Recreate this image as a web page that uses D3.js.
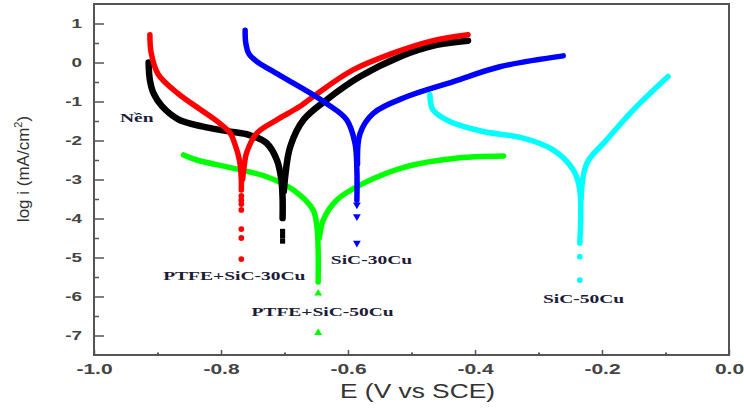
<!DOCTYPE html>
<html><head><meta charset="utf-8">
<script src="https://cdn.jsdelivr.net/npm/d3@7"></script>
<style>body{margin:0;background:#fff}svg{display:block}</style>
</head><body><svg id="c" width="744" height="411"></svg>
<script>
// ---- data (E in V vs SCE, log i in mA/cm2) ----
const xTicks = [-1.0, -0.8, -0.6, -0.4, -0.2, 0.0];
const xMinor = [-0.9, -0.7, -0.5, -0.3, -0.1];
const yTicks = [-7, -6, -5, -4, -3, -2, -1, 0, 1];
const yMinor = [-6.5, -5.5, -4.5, -3.5, -2.5, -1.5, -0.5, 0.5];
const seriesNames = ["Nền", "PTFE+SiC-30Cu", "SiC-30Cu", "PTFE+SiC-50Cu", "SiC-50Cu"];

const nenCathodic = [[-0.914,0.0],[-0.912,-0.45],[-0.906,-0.80],[-0.893,-1.12],[-0.868,-1.45],[-0.830,-1.64],[-0.790,-1.76],[-0.755,-1.86],[-0.728,-2.07],[-0.712,-2.50],[-0.705,-3.0],[-0.703,-3.5],[-0.703,-3.99]];
const nenAnodic = [[-0.701,-3.3],[-0.699,-2.93],[-0.691,-2.16],[-0.670,-1.47],[-0.634,-0.96],[-0.581,-0.36],[-0.518,0.15],[-0.460,0.45],[-0.411,0.56]];
const nenTail = [[-0.703,-4.33],[-0.703,-4.45],[-0.703,-4.58]];

const p30Cathodic = [[-0.912,0.71],[-0.910,0.25],[-0.899,-0.30],[-0.868,-0.79],[-0.833,-1.20],[-0.802,-1.56],[-0.786,-1.80],[-0.778,-2.10],[-0.771,-2.50],[-0.768,-3.0],[-0.768,-3.27]];
const p30Anodic = [[-0.766,-3.0],[-0.763,-2.6],[-0.760,-2.33],[-0.744,-1.82],[-0.712,-1.47],[-0.676,-1.13],[-0.647,-0.78],[-0.592,-0.19],[-0.529,0.24],[-0.466,0.56],[-0.411,0.71]];
const p30Tail = [[-0.768,-3.42],[-0.768,-3.53],[-0.768,-3.63],[-0.768,-3.78],[-0.768,-4.27],[-0.768,-4.50],[-0.768,-5.04]];

const s30Cathodic = [[-0.762,0.83],[-0.761,0.50],[-0.756,0.22],[-0.744,0.03],[-0.722,-0.19],[-0.686,-0.53],[-0.634,-1.05],[-0.602,-1.47],[-0.589,-2.07],[-0.586,-2.76],[-0.586,-3.53]];
const s30Anodic = [[-0.585,-2.6],[-0.581,-1.82],[-0.560,-1.30],[-0.508,-0.88],[-0.434,-0.49],[-0.361,-0.11],[-0.261,0.17]];
const s30Tail = [[-0.586,-3.65],[-0.586,-3.95],[-0.586,-4.63]];

const p50Cathodic = [[-0.859,-2.37],[-0.838,-2.50],[-0.781,-2.71],[-0.728,-2.93],[-0.686,-3.27],[-0.655,-3.78],[-0.649,-4.21],[-0.647,-4.81],[-0.647,-5.63]];
const p50Anodic = [[-0.645,-4.5],[-0.639,-4.04],[-0.618,-3.53],[-0.576,-3.10],[-0.508,-2.67],[-0.434,-2.46],[-0.355,-2.40]];
const p50Tail = [[-0.647,-5.92],[-0.647,-6.93]];

const s50Cathodic = [[-0.471,-0.83],[-0.466,-1.22],[-0.439,-1.52],[-0.387,-1.77],[-0.324,-1.94],[-0.277,-2.24],[-0.245,-2.76],[-0.235,-3.27],[-0.235,-4.63]];
const s50Anodic = [[-0.233,-3.5],[-0.224,-2.59],[-0.193,-1.99],[-0.151,-1.22],[-0.096,-0.36]];
const s50Tail = [[-0.235,-4.98],[-0.235,-5.58]];

// label anchors in data coordinates (left, baseline)
const labelAnchors = [[-0.959,-1.526],[-0.891,-5.577],[-0.627,-5.167],[-0.752,-6.50],[-0.293,-6.17]];

// ---- chart ----
const svg = d3.select("#c");
const L = 94, R = 729, T = 4, B = 355;
const x = d3.scaleLinear([-1, 0], [L, R]);
const y = d3.scaleLinear([-7.5, 1.5], [B, T]);

function stretch(sel, f) {
  sel.each(function () {
    const len = this.getComputedTextLength();
    this.setAttribute("textLength", len * f);
    this.setAttribute("lengthAdjust", "spacingAndGlyphs");
  });
}

const axisColor = "#555";
// bottom axis
const gx = svg.append("g").attr("transform", `translate(0,${B})`)
  .call(d3.axisBottom(x).tickValues(xTicks).tickFormat(d3.format(".1f")).tickSizeInner(-5).tickSizeOuter(0).tickPadding(9));
gx.select(".domain").remove();
gx.selectAll("line").attr("stroke", axisColor).attr("stroke-width", 1.5);
gx.selectAll("text").attr("font-family", "Liberation Sans, Arial, sans-serif").attr("font-size", 14).attr("font-weight", "bold").attr("fill", "#444")
  .text(d => d3.format(".1f")(d).replace("−", "-"));
stretch(gx.selectAll("text"), 1.5);
const gxm = svg.append("g").attr("transform", `translate(0,${B})`)
  .call(d3.axisBottom(x).tickValues(xMinor).tickFormat("").tickSizeInner(-2.5).tickSizeOuter(0));
gxm.select(".domain").remove();
gxm.selectAll("line").attr("stroke", axisColor).attr("stroke-width", 2);

// left axis
const gy = svg.append("g").attr("transform", `translate(${L},0)`)
  .call(d3.axisLeft(y).tickValues(yTicks).tickFormat(d3.format("d")).tickSizeInner(-10).tickSizeOuter(0).tickPadding(12));
gy.select(".domain").remove();
gy.selectAll("line").attr("stroke", axisColor).attr("stroke-width", 1.5);
gy.selectAll("text").attr("font-family", "Liberation Sans, Arial, sans-serif").attr("font-size", 13).attr("font-weight", "bold").attr("fill", "#444")
  .text(d => String(d).replace("−", "-"));
stretch(gy.selectAll("text"), 1.45);
const gym = svg.append("g").attr("transform", `translate(${L},0)`)
  .call(d3.axisLeft(y).tickValues(yMinor).tickFormat("").tickSizeInner(-5).tickSizeOuter(0));
gym.select(".domain").remove();
gym.selectAll("line").attr("stroke", axisColor).attr("stroke-width", 1.5);

// frame
svg.append("rect").attr("x", L).attr("y", T).attr("width", R - L).attr("height", B - T)
  .attr("fill", "none").attr("stroke", axisColor).attr("stroke-width", 2);

// axis titles
const xt = svg.append("text").attr("x", (L + R) / 2 + 6).attr("y", 398).attr("text-anchor", "middle")
  .attr("font-family", "Liberation Sans, Arial, sans-serif").attr("font-size", 20).attr("fill", "#333").text("E (V vs SCE)");
xt.attr("textLength", 155).attr("lengthAdjust", "spacingAndGlyphs");

const yt = svg.append("text").attr("transform", "translate(29,169) rotate(-90)").attr("text-anchor", "middle")
  .attr("font-family", "Liberation Sans, Arial, sans-serif").attr("font-size", 17).attr("fill", "#333");
yt.append("tspan").text("log i (mA/cm");
yt.append("tspan").attr("font-size", 11).attr("dy", -7).text("2");
yt.append("tspan").attr("dy", 7).text(")");

// curves
const line = d3.line().x(d => x(d[0])).y(d => y(d[1])).curve(d3.curveCatmullRom.alpha(0.5));
const series = [
  { name: seriesNames[3], color: "#00ff00", branches: [p50Cathodic, p50Anodic], tail: p50Tail, sym: d3.symbolTriangle, rot: 0, w: 5.5 },
  { name: seriesNames[0], color: "#000000", branches: [nenCathodic, nenAnodic], tail: nenTail, sym: d3.symbolSquare, rot: 0, w: 6.5 },
  { name: seriesNames[1], color: "#ff0000", branches: [p30Cathodic, p30Anodic], tail: p30Tail, sym: d3.symbolCircle, rot: 0, w: 5.5 },
  { name: seriesNames[2], color: "#0000ff", branches: [s30Cathodic, s30Anodic], tail: s30Tail, sym: d3.symbolTriangle, rot: 180, w: 5.5 },
  { name: seriesNames[4], color: "#00ffff", branches: [s50Cathodic, s50Anodic], tail: s50Tail, sym: d3.symbolCircle, rot: 0, w: 5.5 },
];
const gc = svg.append("g");
series.forEach(s => {
  const g = gc.append("g");
  s.branches.forEach(b => {
    g.append("path").attr("d", line(b)).attr("fill", "none").attr("stroke", s.color)
      .attr("stroke-width", s.w).attr("stroke-linecap", "round").attr("stroke-linejoin", "round");
  });
  g.selectAll("path.m").data(s.tail).join("path").attr("class", "m")
    .attr("d", d3.symbol().type(s.sym).size(26))
    .attr("transform", d => `translate(${x(d[0])},${y(d[1])}) rotate(${s.rot})`)
    .attr("fill", s.color);
});

// series labels
const lab = svg.append("g");
labelAnchors.forEach((a, i) => {
  const t = lab.append("text").attr("x", x(a[0])).attr("y", y(a[1]))
    .attr("font-family", "Liberation Serif, Times New Roman, serif").attr("font-weight", "bold")
    .attr("font-size", 13).attr("fill", "#1c1c38").text(seriesNames[i]);
  stretch(t, 1.5);
});
</script>
</body></html>
